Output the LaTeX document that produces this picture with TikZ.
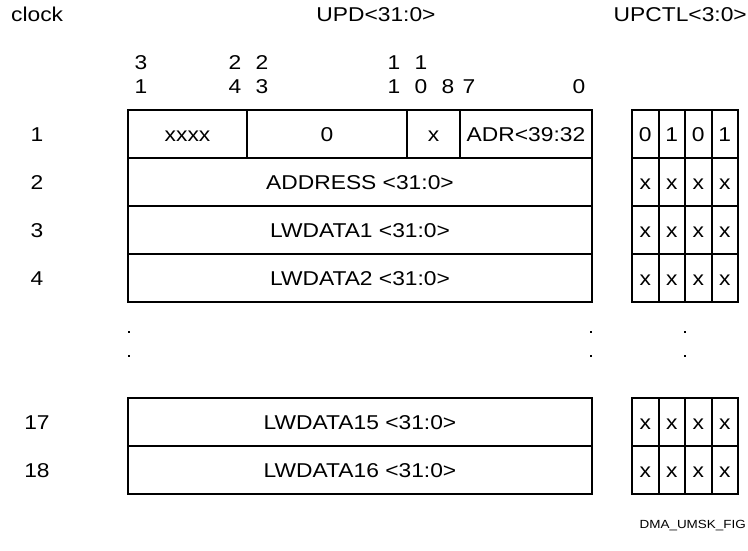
\documentclass[tikz,border=0pt]{standalone}
\usepackage{fontspec}
\setmainfont{Liberation Sans}[FakeStretch=1.14]
\begin{document}
\begin{tikzpicture}[x=1pt,y=-1pt,
  txt/.style={inner sep=0pt, font=\fontsize{20}{24}\selectfont},
  field/.style={draw, line width=2pt, inner sep=0pt, font=\fontsize{20}{24}\selectfont,
    text height=14.5pt, text depth=0pt, minimum height=48pt},
  cell/.style={field, minimum width=26.5pt},
  dotmark/.style={fill, inner sep=0pt, minimum size=2.5pt},
  small/.style={inner sep=0pt, font=\fontsize{11.8}{14}\selectfont}]
\useasboundingbox (0,0) rectangle (748,550);
% headers
\node[txt, anchor=base west] (hclk) at (11,21) {clock};
\node[txt, anchor=base] (hupd) at (376,21) {UPD<31:0>};
\node[txt, anchor=base east] (hctl) at (747,21) {UPCTL<3:0>};
% bit numbers
\foreach \x/\a/\b [count=\i] in {141/3/1, 235/2/4, 262/2/3, 394/1/1, 421/1/0} {
  \node[txt, anchor=base] (bt\i) at (\x,69) {\a};
  \node[txt, anchor=base] (bb\i) at (\x,93) {\b};
}
\node[txt, anchor=base] (b8) at (448,93) {8};
\node[txt, anchor=base] (b7) at (469,93) {7};
\node[txt, anchor=base] (b0) at (579,93) {0};
% row labels
\foreach \y/\t [count=\i] in {134/1, 182/2, 230/3, 278/4, 422/17, 470/18}
  \node[txt, text height=14.5pt, text depth=0pt] (r\i) at (37,\y) {\t};
% row 1 fields
\node[field, minimum width=119pt] (f1a) at (187.5,134) {xxxx};
\node[field, minimum width=160pt] (f1b) at (327,134) {0};
\node[field, minimum width=53pt] (f1c) at (433.5,134) {x};
\node[field, minimum width=132pt] (f1d) at (526,134) {ADR<39:32};
% full-width rows
\node[field, minimum width=464pt] (f2) at (360,182) {ADDRESS <31:0>};
\node[field, minimum width=464pt] (f3) at (360,230) {LWDATA1 <31:0>};
\node[field, minimum width=464pt] (f4) at (360,278) {LWDATA2 <31:0>};
\node[field, minimum width=464pt] (f17) at (360,422) {LWDATA15 <31:0>};
\node[field, minimum width=464pt] (f18) at (360,470) {LWDATA16 <31:0>};
% UPCTL cells
\foreach \x/\t [count=\i] in {645.25/0, 671.75/1, 698.25/0, 724.75/1}
  \node[cell] (c1\i) at (\x,134) {\t};
\foreach \y/\r in {182/2, 230/3, 278/4, 422/17, 470/18}
  \foreach \x [count=\i] in {645.25, 671.75, 698.25, 724.75}
    \node[cell] (c\r\i) at (\x,\y) {x};
% continuation dots
\foreach \x [count=\i] in {129, 591, 685} {
  \node[dotmark] (da\i) at (\x,332) {};
  \node[dotmark] (db\i) at (\x,356) {};
}
% figure tag
\node[small, anchor=base east] (tag) at (746,528.5) {DMA\_UMSK\_FIG};
\end{tikzpicture}
\end{document}
